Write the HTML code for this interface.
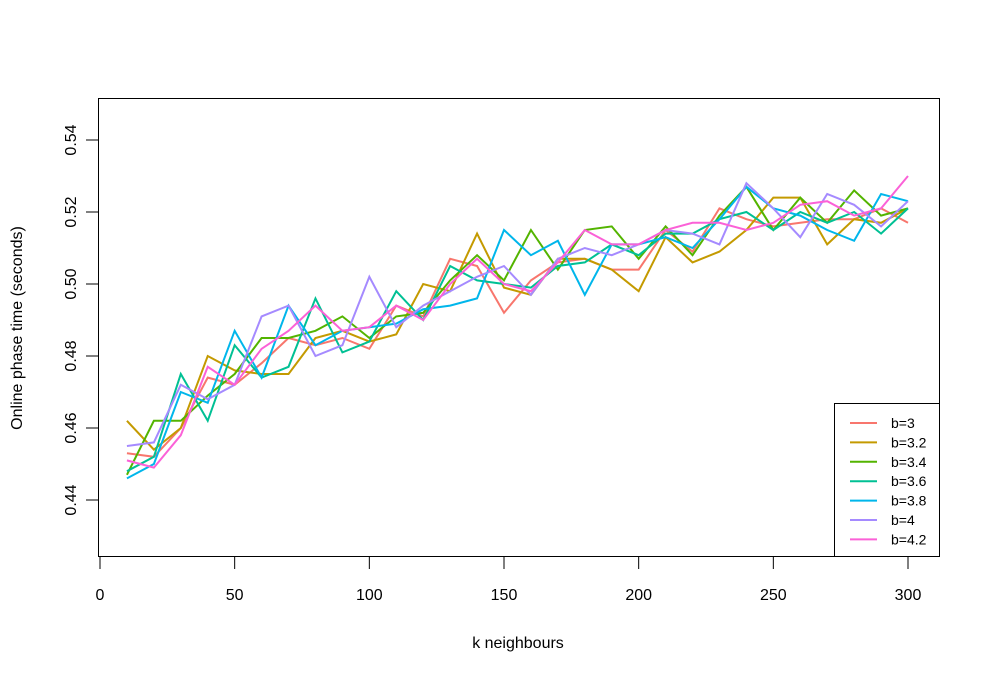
<!DOCTYPE html>
<html><head><meta charset="utf-8"><style>
body{margin:0;background:#fff}
svg text{font-family:"Liberation Sans",Arial,sans-serif;fill:#000}
</style></head><body>
<svg id="chart" width="990" height="680" xmlns="http://www.w3.org/2000/svg">
<rect x="98.5" y="98.5" width="841" height="458" fill="none" stroke="#000"/>
<g id="axes"></g><g id="series"></g><g id="legend"></g>
<text x="518" y="648" font-size="16" text-anchor="middle">k neighbours</text>
<text x="22" y="328" font-size="16" text-anchor="middle" transform="rotate(-90 22 328)">Online phase time (seconds)</text>
</svg>
<script>
const ks=[10,20,30,40,50,60,70,80,90,100,110,120,130,140,150,160,170,180,190,200,210,220,230,240,250,260,270,280,290,300];
const seriesNames=["b=3","b=3.2","b=3.4","b=3.6","b=3.8","b=4","b=4.2"];
const colors=["#F8766D","#C49A00","#53B400","#00C094","#00B6EB","#A58AFF","#FB61D7"];
const b30=[0.453,0.452,0.460,0.474,0.472,0.478,0.485,0.483,0.485,0.482,0.494,0.491,0.507,0.505,0.492,0.501,0.506,0.507,0.504,0.504,0.515,0.509,0.521,0.518,0.516,0.517,0.518,0.518,0.521,0.517];
const b32=[0.462,0.454,0.460,0.480,0.476,0.475,0.475,0.485,0.487,0.484,0.486,0.500,0.498,0.514,0.499,0.497,0.507,0.507,0.504,0.498,0.513,0.506,0.509,0.515,0.524,0.524,0.511,0.518,0.517,0.521];
const b34=[0.447,0.462,0.462,0.469,0.475,0.485,0.485,0.487,0.491,0.485,0.491,0.492,0.501,0.508,0.501,0.515,0.504,0.515,0.516,0.507,0.516,0.508,0.519,0.527,0.515,0.524,0.517,0.526,0.519,0.521];
const b36=[0.448,0.452,0.475,0.462,0.483,0.474,0.477,0.496,0.481,0.484,0.498,0.490,0.505,0.501,0.500,0.499,0.505,0.506,0.511,0.508,0.514,0.514,0.518,0.520,0.515,0.520,0.517,0.520,0.514,0.521];
const b38=[0.446,0.450,0.470,0.467,0.487,0.474,0.494,0.483,0.487,0.488,0.489,0.493,0.494,0.496,0.515,0.508,0.512,0.497,0.511,0.511,0.513,0.510,0.518,0.527,0.521,0.519,0.515,0.512,0.525,0.523];
const b40=[0.455,0.456,0.472,0.468,0.472,0.491,0.494,0.480,0.483,0.502,0.488,0.494,0.498,0.502,0.505,0.497,0.507,0.510,0.508,0.511,0.515,0.514,0.511,0.528,0.521,0.513,0.525,0.522,0.516,0.523];
const b42=[0.451,0.449,0.458,0.477,0.472,0.482,0.487,0.494,0.487,0.488,0.494,0.490,0.500,0.507,0.500,0.498,0.506,0.515,0.511,0.511,0.515,0.517,0.517,0.515,0.517,0.522,0.523,0.519,0.521,0.530];
const xTicks=[0,50,100,150,200,250,300];
const yTicks=[0.44,0.46,0.48,0.50,0.52,0.54];
const allSeries=[b30,b32,b34,b36,b38,b40,b42];
const NS="http://www.w3.org/2000/svg";
const xs=k=>100+k*(808/300);
const ys=v=>500-(v-0.44)*3600;
function mk(t,a,p){const e=document.createElementNS(NS,t);for(const k in a)e.setAttribute(k,a[k]);p.appendChild(e);return e;}
const ax=document.getElementById('axes');
xTicks.forEach(t=>{
 const l=mk('line',{x1:xs(t),x2:xs(t),y1:557,y2:569,stroke:'#000'},ax);
 
 
 const tx=mk('text',{x:xs(t),y:600,'font-size':16,'text-anchor':'middle'},ax);tx.textContent=t;
 
 
});
yTicks.forEach(t=>{
 const y=ys(t);
 const l=mk('line',{x1:86,x2:98,y1:y,y2:y,stroke:'#000'},ax);
 
 
 const tx=mk('text',{x:76,y:y,'font-size':16,'text-anchor':'middle',transform:`rotate(-90 76 ${y})`},ax);tx.textContent=t.toFixed(2);
 
 
});
const sg=document.getElementById('series');
allSeries.forEach((s,i)=>{
 const p=mk('polyline',{points:s.map((v,j)=>xs(ks[j])+','+ys(v)).join(' '),fill:'none',stroke:colors[i],'stroke-width':2},sg);
 
 
});
const lg=document.getElementById('legend');
const box=mk('rect',{x:834.5,y:403.5,width:105,height:153,fill:'#fff',stroke:'#000'},lg);


seriesNames.forEach((n,i)=>{
 const y=423+i*19.4;
 const l=mk('line',{x1:850,x2:877,y1:y,y2:y,stroke:colors[i],'stroke-width':2},lg);
 
 
 const t=mk('text',{x:891,y:y+5,'font-size':14},lg);t.textContent=n;
 
 
});
</script>
</body></html>
